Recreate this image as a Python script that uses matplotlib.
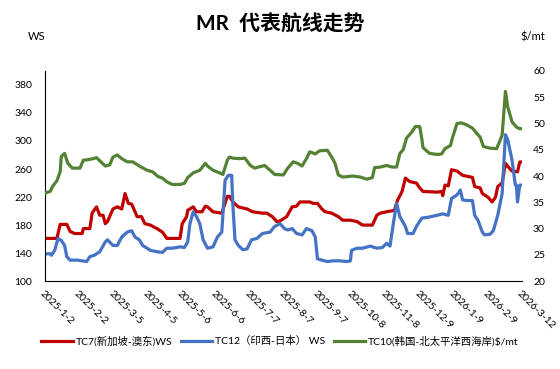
import numpy as np
import pandas as pd
import matplotlib
matplotlib.use("Agg")
import matplotlib.pyplot as plt

plt.rcParams['font.family'] = ['Lato', 'Noto Sans CJK SC', 'DejaVu Sans']

start = pd.Timestamp("2025-01-02")
tick_labels = ["2025-1-2", "2025-2-2", "2025-3-5", "2025-4-5", "2025-5-6", "2025-6-6",
               "2025-7-7", "2025-8-7", "2025-9-7", "2025-10-8", "2025-11-8", "2025-12-9",
               "2026-1-9", "2026-2-9", "2026-3-12"]

# days since 2025-01-02
tc7_day = [0, 11, 14, 20, 23, 27, 34, 35, 41, 43, 47, 50, 53, 55, 57, 62, 66, 70, 73, 76,
           79, 84, 88, 91, 96, 102, 107, 111, 123, 125, 129, 130, 135, 138, 143, 146, 148,
           153, 161, 166, 168, 171, 176, 184, 189, 198, 202, 207, 211, 214, 220, 225, 229,
           232, 241, 244, 248, 252, 255, 261, 267, 271, 278, 284, 289, 298, 302, 305, 311,
           318, 321, 325, 328, 332, 338, 341, 344, 357, 361, 362, 364, 367, 370, 375, 380,
           389, 391, 396, 398, 403, 407, 410, 412, 416, 419, 421, 425, 430, 432, 434]
tc7_ws = [161, 161, 181, 181, 171, 168, 168, 175, 175, 197, 206, 194, 194, 182, 185, 203,
          206, 203, 225, 211, 210, 192, 192, 182, 180, 175, 170, 161, 161, 182, 192, 201,
          206, 199, 199, 207, 206, 199, 197, 221, 221, 213, 206, 203, 199, 197, 197, 192,
          185, 186, 192, 206, 207, 213, 213, 211, 211, 203, 199, 197, 192, 187, 187, 185,
          180, 180, 194, 197, 199, 201, 216, 228, 247, 242, 240, 233, 228, 227, 228, 222,
          237, 236, 259, 257, 251, 248, 235, 233, 225, 220, 213, 220, 235, 240, 268, 264,
          257, 256, 270, 270]

tc12_day = [0, 5, 6, 9, 12, 15, 18, 20, 23, 30, 34, 38, 41, 45, 50, 55, 57, 62, 66, 70,
            75, 79, 82, 86, 89, 96, 102, 107, 111, 116, 123, 127, 130, 132, 135, 138, 141,
            144, 148, 153, 157, 161, 164, 167, 170, 171, 173, 176, 180, 184, 188, 193, 198,
            205, 209, 214, 218, 221, 225, 229, 234, 238, 243, 246, 248, 252, 257, 262, 268,
            275, 278, 279, 284, 289, 296, 302, 307, 311, 314, 317, 320, 323, 328, 330, 335,
            338, 343, 348, 357, 362, 367, 370, 375, 378, 380, 384, 389, 391, 394, 398, 400,
            405, 408, 412, 416, 419, 421, 425, 428, 429, 430, 432, 434]
tc12_ws = [139, 139, 137, 144, 161, 158, 151, 135, 130, 130, 129, 128, 135, 137, 142, 156,
           159, 151, 151, 163, 170, 172, 163, 159, 151, 144, 142, 141, 147, 147, 149, 148,
           156, 182, 199, 192, 182, 159, 147, 149, 163, 170, 244, 251, 251, 211, 159, 151,
           145, 146, 159, 161, 168, 170, 178, 182, 175, 173, 175, 168, 166, 175, 172, 163,
           132, 130, 128, 129, 129, 128, 129, 144, 147, 147, 150, 147, 148, 154, 150, 182,
           211, 192, 178, 168, 168, 178, 190, 191, 194, 196, 194, 218, 223, 230, 216, 215,
           215, 194, 187, 170, 166, 167, 172, 194, 225, 309, 302, 273, 237, 237, 213, 237,
           237]

tc10_day = [0, 5, 7, 11, 14, 15, 18, 21, 25, 32, 35, 39, 44, 47, 50, 55, 59, 62, 66, 70,
            75, 80, 86, 93, 98, 103, 107, 111, 116, 123, 127, 130, 135, 141, 146, 148, 153,
            159, 162, 166, 168, 171, 177, 182, 187, 191, 196, 200, 205, 209, 217, 221, 226,
            230, 234, 238, 241, 246, 250, 257, 261, 264, 267, 271, 276, 280, 287, 293, 298,
            300, 305, 311, 316, 320, 323, 326, 329, 334, 337, 341, 343, 344, 350, 357, 361,
            364, 369, 371, 375, 379, 384, 389, 393, 396, 399, 405, 411, 414, 416, 419, 421,
            425, 429, 432, 434]
tc10_usd = [36.7, 37.1, 38.0, 39.1, 40.8, 43.7, 44.3, 42.4, 41.5, 41.5, 43.0, 43.1, 43.3,
            43.5, 42.9, 41.9, 42.1, 43.6, 44.0, 43.3, 42.7, 42.7, 41.9, 41.1, 40.8, 39.9,
            39.6, 38.9, 38.4, 38.4, 38.6, 39.7, 40.6, 41.1, 42.4, 41.9, 41.1, 40.6, 40.3,
            43.0, 43.6, 43.4, 43.3, 43.4, 42.0, 41.5, 41.8, 42.0, 41.1, 40.3, 40.2, 41.5,
            42.7, 42.4, 41.9, 43.3, 44.6, 44.2, 44.8, 44.9, 43.6, 42.4, 40.2, 39.8, 39.9,
            40.0, 39.8, 39.4, 39.7, 41.6, 41.7, 42.0, 41.7, 41.7, 44.3, 45.0, 47.2, 48.4,
            49.4, 49.4, 47.0, 45.4, 44.3, 44.1, 44.2, 45.2, 45.8, 47.4, 50.0, 50.1, 49.7,
            49.1, 48.1, 47.4, 45.6, 45.3, 45.2, 46.7, 47.8, 56.1, 53.2, 50.3, 49.3, 49.0,
            49.0]

def to_dates(days):
    return start + pd.to_timedelta(days, unit="D")

fig = plt.figure(figsize=(5.6, 3.69), dpi=100)
ax = fig.add_axes([0.080, 0.238, 0.852, 0.570])
ax2 = ax.twinx()

l1, = ax.plot(to_dates(tc7_day), tc7_ws, color="#C00000", lw=2.3,
              label="TC7(新加坡-澳东)WS")
l2, = ax.plot(to_dates(tc12_day), tc12_ws, color="#4472C4", lw=2.3,
              label="TC12（印西-日本） WS")
l3, = ax2.plot(to_dates(tc10_day), tc10_usd, color="#548235", lw=2.3,
               label="TC10(韩国-北太平洋西海岸)$/mt")

ax.set_ylim(100, 400)
ax.set_yticks(np.arange(100, 381, 40))
ax2.set_ylim(20, 60)
ax2.set_yticks(np.arange(20, 61, 5))

tick_dates = pd.to_datetime(tick_labels)
ax.set_xlim(tick_dates[0], tick_dates[-1])
ax.set_xticks(tick_dates)
ax.set_xticklabels(tick_labels, rotation=-45, ha="left", va="top",
                   rotation_mode="anchor")

for a in (ax, ax2):
    a.tick_params(length=0, labelsize=7.5)
    a.spines["top"].set_visible(False)
    a.spines["right"].set_visible(False)
ax.tick_params(axis="y", pad=9)
ax.tick_params(axis="x", pad=6)
ax2.tick_params(axis="y", pad=8)
ax2.spines["left"].set_visible(False)
ax2.spines["bottom"].set_visible(False)

fig.text(0.5, 0.935, "MR  代表航线走势", ha="center", va="center",
         fontsize=15, fontweight="bold")
fig.text(0.05, 0.90, "WS", ha="left", va="center", fontsize=8)
fig.text(0.93, 0.90, "$/mt", ha="left", va="center", fontsize=8)

fig.legend(handles=[l1, l2, l3], loc="center", bbox_to_anchor=(0.5, 0.076),
           ncol=3, frameon=False, fontsize=7.5, handlelength=3.0,
           handletextpad=0.3, columnspacing=0.8)

fig.savefig("out.png", dpi=100)
